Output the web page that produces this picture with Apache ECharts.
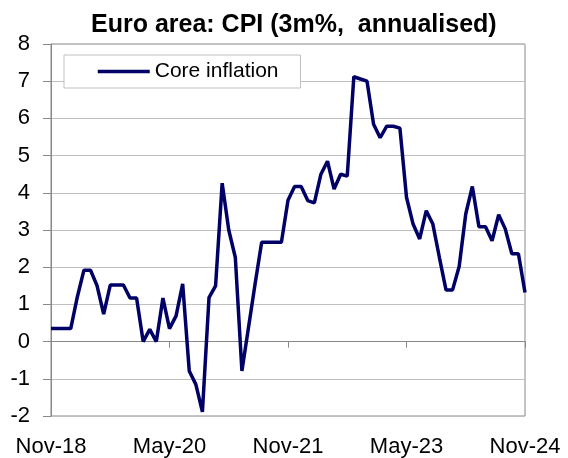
<!DOCTYPE html>
<html>
<head>
<meta charset="utf-8">
<script src="https://cdn.jsdelivr.net/npm/echarts@6/dist/echarts.min.js"></script>
<style>
  html, body { margin: 0; padding: 0; background: #fff; }
  #chart { width: 568px; height: 458px; }
</style>
</head>
<body>
<div id="chart"></div>
<script>
// monthly, Nov-18 .. Nov-24
const months = []
const monthNames = ['Jan', 'Feb', 'Mar', 'Apr', 'May', 'Jun', 'Jul', 'Aug', 'Sep', 'Oct', 'Nov', 'Dec']
for (let i = 0; i < 73; i++) {
  const m = (10 + i) % 12
  const y = 18 + Math.floor((10 + i) / 12)
  months.push(monthNames[m] + '-' + y)
}

const coreInflation = [
  0.35, 0.35, 0.35, 0.35, 1.2, 1.92, 1.92, 1.5, 0.74, 1.52, 1.52, 1.52,
  1.17, 1.17, 0.0, 0.33, 0.0, 1.17, 0.35, 0.69, 1.55, -0.79, -1.15, -1.89,
  1.18, 1.5, 4.26, 3.0, 2.26, -0.79, 0.38, 1.55, 2.67, 2.67, 2.67, 2.67,
  3.8, 4.17, 4.17, 3.79, 3.73, 4.5, 4.85, 4.1, 4.5, 4.45, 7.12, 7.06,
  7.0, 5.84, 5.48, 5.79, 5.79, 5.74, 3.88, 3.16, 2.76, 3.52, 3.16, 2.26,
  1.39, 1.39, 2.02, 3.43, 4.17, 3.09, 3.09, 2.71, 3.41, 3.03, 2.36, 2.36,
  1.32
]

const labelEvery = 18
const font = 'Liberation Sans, Arial, sans-serif'

const chart = echarts.init(document.getElementById('chart'))
chart.setOption({
  animation: false,
  title: {
    text: 'Euro area: CPI (3m%,  annualised)',
    left: 86,
    top: 8,
    textStyle: {
      fontFamily: font,
      fontSize: 25,
      fontWeight: 'bold',
      color: '#000'
    }
  },
  legend: {
    left: 64,
    top: 55,
    padding: [6, 22, 6, 32],
    backgroundColor: '#fff',
    borderColor: '#c0c0c0',
    borderWidth: 1,
    borderRadius: 0,
    itemWidth: 52,
    itemHeight: 14,
    itemGap: 5,
    itemStyle: { opacity: 0 },
    lineStyle: { width: 3.5, color: '#000066' },
    textStyle: { fontFamily: font, fontSize: 21, color: '#000' },
    data: ['Core inflation']
  },
  grid: {
    left: 51,
    right: 43,
    top: 44,
    bottom: 42,
    show: true,
    borderColor: '#888',
    borderWidth: 1
  },
  xAxis: {
    type: 'category',
    data: months,
    boundaryGap: false,
    axisLine: { lineStyle: { color: '#888', width: 1 } },
    axisTick: {
      show: true,
      inside: false,
      length: 6,
      interval: (idx) => idx % labelEvery === 0,
      lineStyle: { color: '#888' }
    },
    axisLabel: {
      interval: (idx) => idx % labelEvery === 0,
      fontFamily: font,
      fontSize: 22,
      color: '#000',
      margin: 20,
      showMinLabel: true,
      showMaxLabel: true
    },
    splitLine: { show: false }
  },
  yAxis: {
    type: 'value',
    min: -2,
    max: 8,
    interval: 1,
    axisLine: { show: true, lineStyle: { color: '#888', width: 1 } },
    axisTick: { show: true, inside: false, length: 8, lineStyle: { color: '#888' } },
    axisLabel: {
      fontFamily: font,
      fontSize: 22,
      color: '#000',
      margin: 21
    },
    splitLine: { lineStyle: { color: '#c0c0c0', width: 1 } }
  },
  series: [{
    name: 'Core inflation',
    type: 'line',
    data: coreInflation,
    symbol: 'none',
    lineStyle: { color: '#000066', width: 3.5 },
    itemStyle: { color: '#000066' }
  }]
})
</script>
</body>
</html>
